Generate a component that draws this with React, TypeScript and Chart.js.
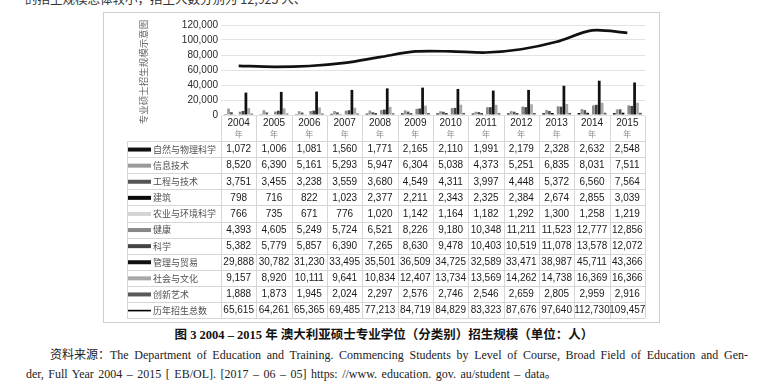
import React, { useEffect, useRef } from "react";
import { Chart, registerables } from "chart.js";

Chart.register(...registerables);

const years = ["2004", "2005", "2006", "2007", "2008", "2009", "2010", "2011", "2012", "2013", "2014", "2015"];
const yearSuffix = "年";
const natural = [1072, 1006, 1081, 1560, 1771, 2165, 2110, 1991, 2179, 2328, 2632, 2548];
const infoTech = [8520, 6390, 5161, 5293, 5947, 6304, 5038, 4373, 5251, 6835, 8031, 7511];
const engineering = [3751, 3455, 3238, 3559, 3680, 4549, 4311, 3997, 4448, 5372, 6560, 7564];
const architecture = [798, 716, 822, 1023, 2377, 2211, 2343, 2325, 2384, 2674, 2855, 3039];
const agriculture = [766, 735, 671, 776, 1020, 1142, 1164, 1182, 1292, 1300, 1258, 1219];
const health = [4393, 4605, 5249, 5724, 6521, 8226, 9180, 10348, 11211, 11523, 12777, 12856];
const science = [5382, 5779, 5857, 6390, 7265, 8630, 9478, 10403, 10519, 11078, 13578, 12072];
const management = [29888, 30782, 31230, 33495, 35501, 36509, 34725, 32589, 33471, 38987, 45711, 43366];
const society = [9157, 8920, 10111, 9641, 10834, 12407, 13734, 13569, 14262, 14738, 16369, 16366];
const creative = [1888, 1873, 1945, 2024, 2297, 2576, 2746, 2546, 2659, 2805, 2959, 2916];
const total = [65615, 64261, 65365, 69485, 77213, 84719, 84829, 83323, 87676, 97640, 112730, 109457];

const barSeries = [
  { label: "自然与物理科学", data: natural, color: "#111111" },
  { label: "信息技术", data: infoTech, color: "#9a9a9a" },
  { label: "工程与技术", data: engineering, color: "#555555" },
  { label: "建筑", data: architecture, color: "#0a0a0a" },
  { label: "农业与环境科学", data: agriculture, color: "#d4d4d4" },
  { label: "健康", data: health, color: "#888888" },
  { label: "科学", data: science, color: "#444444" },
  { label: "管理与贸易", data: management, color: "#111111" },
  { label: "社会与文化", data: society, color: "#a8a8a8" },
  { label: "创新艺术", data: creative, color: "#595959" },
];
const totalLabel = "历年招生总数";
const yTitle = "专业硕士招生规模示意图";
const yMax = 120000;
const yStep = 20000;

const fmt = (v: number) => v.toLocaleString("en-US");

const tablePlugin = {
  id: "dataTable",
  afterDraw(chart: any) {
    const ctx = chart.ctx as CanvasRenderingContext2D;
    const xs = chart.scales.x;
    const area = chart.chartArea;
    const n = years.length;
    const colW = (xs.right - xs.left) / n;
    const tableLeft = 23;
    const headTop = area.bottom + 1;
    const headBot = headTop + 25;
    const rowH = 16.1;
    const rows = chart.data.datasets.length;
    const bottom = headBot + rows * rowH;

    ctx.save();
    ctx.save();
    ctx.translate(39, (area.top + area.bottom) / 2 + 2);
    ctx.rotate(-Math.PI / 2);
    ctx.fillStyle = "#6a6a6a";
    ctx.font = '9.5px "Noto Sans CJK SC"';
    ctx.textAlign = "center";
    ctx.textBaseline = "middle";
    ctx.fillText(yTitle, 0, 0);
    ctx.restore();

    ctx.strokeStyle = "#d6d6d6";
    ctx.lineWidth = 1;
    ctx.beginPath();
    for (let i = 0; i <= n; i++) {
      const x = Math.round(xs.left + i * colW) + 0.5;
      ctx.moveTo(x, headTop);
      ctx.lineTo(x, bottom);
    }
    ctx.moveTo(tableLeft + 0.5, headBot);
    ctx.lineTo(tableLeft + 0.5, bottom);
    for (let r = 0; r <= rows; r++) {
      const y = Math.round(headBot + r * rowH) + 0.5;
      ctx.moveTo(tableLeft, y);
      ctx.lineTo(xs.right, y);
    }
    ctx.stroke();

    ctx.textAlign = "center";
    ctx.textBaseline = "middle";
    years.forEach((yr, i) => {
      const cx = xs.getPixelForValue(i);
      ctx.fillStyle = "#222";
      ctx.font = '10px "Liberation Sans"';
      ctx.fillText(yr, cx, headTop + 7);
      ctx.fillStyle = "#8a8a8a";
      ctx.font = '8px "Noto Sans CJK SC"';
      ctx.fillText(yearSuffix, cx, headTop + 18);
    });

    chart.data.datasets.forEach((ds: any, r: number) => {
      const cy = headBot + r * rowH + rowH / 2 + 0.5;
      if (ds.type === "line") {
        ctx.fillStyle = "#000";
        ctx.fillRect(tableLeft + 1, cy - 0.75, 23, 1.6);
      } else {
        ctx.fillStyle = ds.backgroundColor;
        ctx.fillRect(tableLeft + 1, cy - 2, 23, 4);
      }
      ctx.fillStyle = "#505050";
      ctx.font = '9px "Noto Sans CJK SC"';
      ctx.textAlign = "left";
      ctx.fillText(ds.label, tableLeft + 26, cy);
      ctx.fillStyle = "#1a1a1a";
      ctx.font = '10px "Liberation Sans"';
      ctx.textAlign = "center";
      (ds.data as number[]).forEach((v, i) => {
        ctx.fillText(fmt(v), xs.getPixelForValue(i), cy);
      });
    });
    ctx.restore();
  },
};

export default function App() {
  const ref = useRef<HTMLCanvasElement | null>(null);
  const srcRef = useRef<HTMLSpanElement | null>(null);
  useEffect(() => {
    document.body.style.margin = "0";
    const span = srcRef.current;
    if (span) {
      const target = 698;
      const w = span.getBoundingClientRect().width;
      const spaces = (span.textContent || "").split(" ").length - 1;
      if (spaces > 0) span.style.wordSpacing = `${(target - w) / spaces}px`;
    }
    if (!ref.current) return;
    const datasets: any[] = barSeries.map((s) => ({
      type: "bar",
      label: s.label,
      data: s.data,
      backgroundColor: s.color,
      borderWidth: 0,
      categoryPercentage: 0.82,
      barPercentage: 0.95,
      order: 1,
    }));
    datasets.push({
      type: "line",
      label: totalLabel,
      data: total,
      borderColor: "#111",
      backgroundColor: "#111",
      borderWidth: 2.7,
      pointRadius: 0,
      tension: 0.3,
      order: 0,
    });
    const chart = new Chart(ref.current, {
      type: "bar",
      data: { labels: years, datasets },
      options: {
        animation: false,
        responsive: false,
        devicePixelRatio: 1,
        layout: { padding: { top: 12, bottom: 207, left: 0, right: 14 } },
        plugins: { legend: { display: false }, tooltip: { enabled: false } },
        scales: {
          x: { display: false, offset: true },
          y: {
            min: 0,
            max: yMax,
            border: { display: false },
            grid: { color: "#e2e2e2", drawTicks: false },
            afterFit: (s: any) => {
              s.width = 117;
            },
            ticks: {
              stepSize: yStep,
              padding: 3,
              color: "#2a2a2a",
              font: { family: "Liberation Sans", size: 10 },
              callback: (v: any) => fmt(Number(v)),
            },
          },
        },
      },
      plugins: [tablePlugin],
    });
    return () => chart.destroy();
  }, []);

  const serif = '"Liberation Serif", "Noto Sans CJK SC", serif';
  return (
    <div style={{ position: "absolute", left: 0, top: 0, width: 768, height: 389, background: "#fff", overflow: "hidden", fontFamily: serif, color: "#222" }}>
      <div style={{ position: "absolute", left: 25, top: -11, fontSize: 12.5, whiteSpace: "nowrap", fontFamily: '"Noto Sans CJK SC", sans-serif', color: "#333" }}>
        的招生规模总体较小，招生人数分别为 12,925 人、
      </div>
      <div style={{ position: "absolute", left: 103, top: 12, width: 555, height: 309, border: "1px solid #cfcfcf" }}>
        <canvas ref={ref} width={555} height={309} style={{ display: "block", width: 555, height: 309 }} />
      </div>
      <div style={{ position: "absolute", left: 0, width: 768, top: 324, textAlign: "center", fontSize: 12.5, fontWeight: "bold", whiteSpace: "nowrap", color: "#111" }}>
        图 3 2004 – 2015 年 澳大利亚硕士专业学位（分类别）招生规模（单位：人）
      </div>
      <div style={{ position: "absolute", left: 50, top: 345, fontSize: 12, whiteSpace: "nowrap", color: "#222" }}>
        <span ref={srcRef}>资料来源：The Department of Education and Training. Commencing Students by Level of Course, Broad Field of Education and Gen-</span>
      </div>
      <div style={{ position: "absolute", left: 26, top: 364, fontSize: 12, whiteSpace: "nowrap", wordSpacing: 1.5, color: "#222" }}>
        der, Full Year 2004 – 2015 [ EB/OL]. [2017 – 06 – 05] https: //www. education. gov. au/student – data。
      </div>
    </div>
  );
}
